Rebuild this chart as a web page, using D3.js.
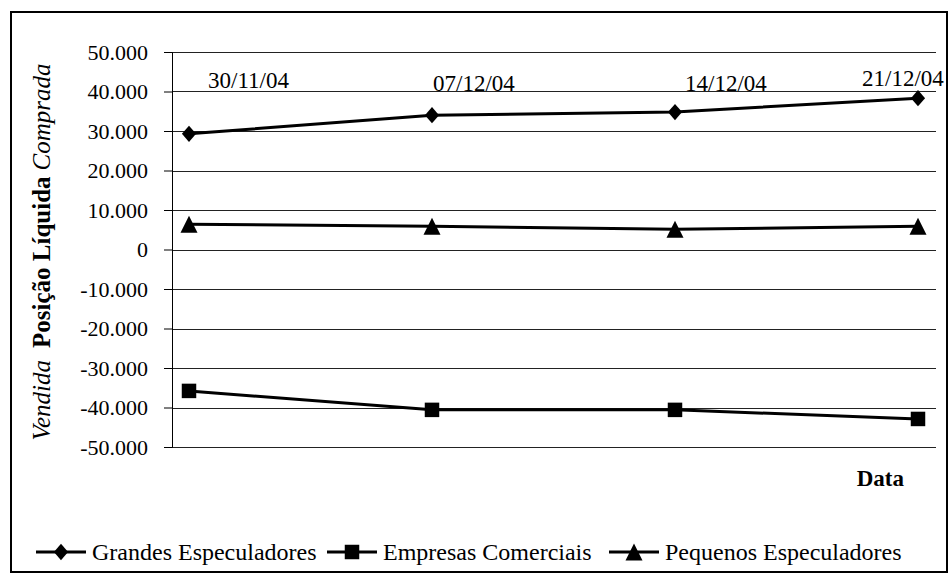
<!DOCTYPE html>
<html lang="pt">
<head>
<meta charset="utf-8">
<title>Posição Líquida</title>
<script src="https://d3js.org/d3.v7.min.js"></script>
<style type="text/css">
body { margin: 0; background: #fff; }
</style>
</head>
<body>
<div id="chart"></div>
<script>
// data
var categories = ["30/11/04", "07/12/04", "14/12/04", "21/12/04"];
var grandes  = [29300, 34000, 34800, 38300];
var empresas = [-35800, -40600, -40600, -42900];
var pequenos = [6400, 5900, 5100, 5900];
var seriesNames = ["Grandes Especuladores", "Empresas Comerciais", "Pequenos Especuladores"];
var yTicks = [50000, 40000, 30000, 20000, 10000, 0, -10000, -20000, -30000, -40000, -50000];

// date labels sit near the top, each nudged a bit (like in the original)
var labelDx = [19, 1, 10, -56];
var labelDy = [36, 39, 39, 34];

var FONT = "'Times New Roman', 'Liberation Serif', serif";

var W = 950, H = 576;
var margin = {top: 52, right: 14, bottom: 129, left: 172},
    width = W - margin.left - margin.right,
    height = H - margin.top - margin.bottom;

// excel-like markers
var diamond = {draw: function(ctx, size) {
  var r = Math.sqrt(size) / 2;
  ctx.moveTo(0, -r * 1.15); ctx.lineTo(r, 0); ctx.lineTo(0, r * 1.15); ctx.lineTo(-r, 0); ctx.closePath();
}};
var triangle = {draw: function(ctx, size) {
  var r = Math.sqrt(size) / 2;
  ctx.moveTo(0, -r); ctx.lineTo(r, r); ctx.lineTo(-r, r); ctx.closePath();
}};

var svg = d3.select("#chart")
  .append("svg")
    .attr("width", W)
    .attr("height", H)
    .attr("font-family", FONT);

// outer frame
svg.append("rect")
  .attr("x", 11).attr("y", 12)
  .attr("width", 936).attr("height", 560)
  .attr("fill", "none")
  .attr("stroke", "#000")
  .attr("stroke-width", 2);

var g = svg.append("g")
  .attr("transform", "translate(" + margin.left + "," + margin.top + ")");

var x = d3.scalePoint()
  .domain(categories)
  .range([17, width - 18]);

var y = d3.scaleLinear()
  .domain([-50000, 50000])
  .range([height, 0]);

var br = d3.formatLocale({decimal: ",", thousands: ".", grouping: [3], currency: ["", ""], minus: "-"});
var fmt = br.format(",d");

// gridlines
g.selectAll(".grid")
  .data(yTicks)
  .enter()
  .append("line")
    .attr("class", "grid")
    .attr("x1", 0).attr("x2", width)
    .attr("y1", function(d) { return Math.round(y(d)) + 0.5; })
    .attr("y2", function(d) { return Math.round(y(d)) + 0.5; })
    .attr("stroke", "#222")
    .attr("stroke-width", 1);

// y axis
var yAxis = g.append("g")
  .call(d3.axisLeft(y).tickValues(yTicks).tickFormat(fmt).tickSize(8).tickPadding(16))
  .attr("font-family", FONT);
yAxis.select(".domain").attr("stroke", "#000");
yAxis.selectAll("text")
  .style("font-size", "22px")
  .attr("fill", "#000");

// y title (rotated, mixed styles)
var yt = svg.append("text")
  .attr("transform", "translate(50,252) rotate(-90)")
  .attr("text-anchor", "middle")
  .style("font-size", "25px");
yt.append("tspan").style("font-style", "italic").text("Vendida");
yt.append("tspan").style("font-weight", "bold").attr("dx", 12).text("Posição Líquida");
yt.append("tspan").style("font-style", "italic").attr("dx", 6).text("Comprada");

// x title
svg.append("text")
  .attr("x", 904).attr("y", 486)
  .attr("text-anchor", "end")
  .style("font-size", "23px")
  .style("font-weight", "bold")
  .text("Data");

// date labels
g.selectAll(".dateLabel")
  .data(categories)
  .enter()
  .append("text")
    .attr("class", "dateLabel")
    .attr("x", function(d, i) { return x(d) + labelDx[i]; })
    .attr("y", function(d, i) { return y(50000) + labelDy[i]; })
    .style("font-size", "23px")
    .text(function(d) { return d; });

var series = [
  {name: seriesNames[0], values: grandes,  sym: diamond,         size: 200},
  {name: seriesNames[1], values: empresas, sym: d3.symbolSquare, size: 210},
  {name: seriesNames[2], values: pequenos, sym: triangle,        size: 290}
];

var line = d3.line()
  .x(function(d, i) { return x(categories[i]); })
  .y(function(d) { return y(d); });

series.forEach(function(s) {
  g.append("path")
    .datum(s.values)
    .attr("d", line)
    .attr("fill", "none")
    .attr("stroke", "#000")
    .attr("stroke-width", 3);

  g.selectAll(null)
    .data(s.values)
    .enter()
    .append("path")
      .attr("transform", function(d, i) { return "translate(" + x(categories[i]) + "," + y(d) + ")"; })
      .attr("d", d3.symbol().type(s.sym).size(s.size))
      .attr("fill", "#000");
});

// legend
var legendX = [36, 327, 609];
var leg = svg.selectAll(".leg")
  .data(series)
  .enter()
  .append("g")
    .attr("class", "leg")
    .attr("transform", function(d, i) { return "translate(" + legendX[i] + ",552)"; });
leg.append("line")
  .attr("x1", 0).attr("x2", 50)
  .attr("stroke", "#000").attr("stroke-width", 3);
leg.append("path")
  .attr("transform", "translate(25,0)")
  .attr("d", function(d) { return d3.symbol().type(d.sym).size(d.size)(); })
  .attr("fill", "#000");
leg.append("text")
  .attr("x", 56).attr("y", 8)
  .style("font-size", "24px")
  .text(function(d) { return d.name; });
</script>
</body>
</html>
